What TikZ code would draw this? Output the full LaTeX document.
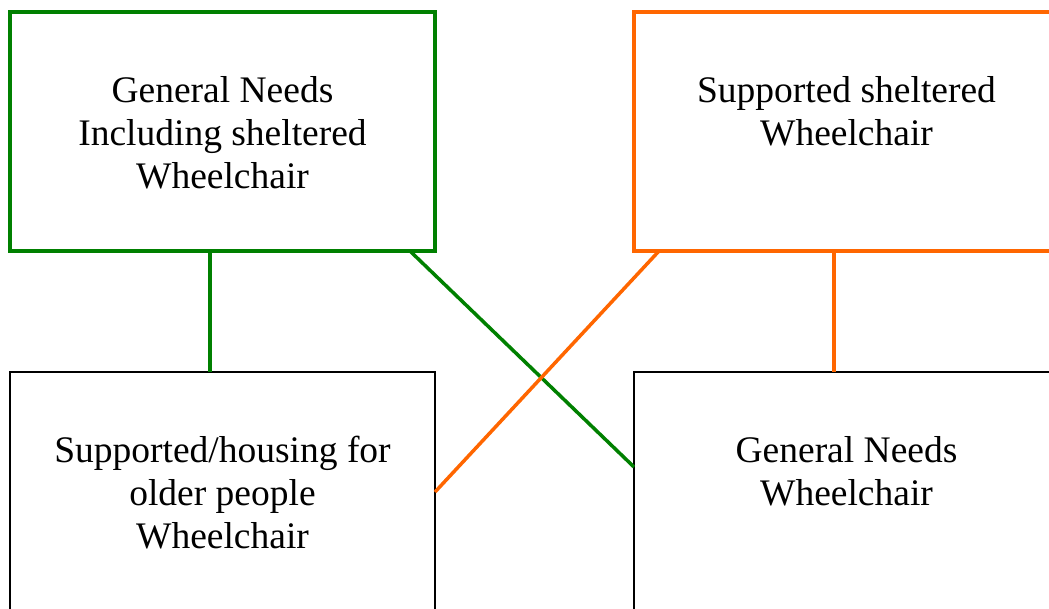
\documentclass[tikz,border=0pt]{standalone}
\usepackage{fontspec}
\setmainfont{Liberation Serif}
\definecolor{gngreen}{RGB}{0,128,0}
\definecolor{shorange}{RGB}{255,102,0}
\begin{document}
\begin{tikzpicture}[x=1pt,y=-1pt,
		box/.style={draw,rectangle,minimum width=425pt,minimum height=239pt,inner sep=0pt,outer sep=0pt,anchor=north west},
		boxtext/.style={align=center,inner sep=0pt,anchor=north,font=\fontsize{37.5}{43}\selectfont},
		link/.style={line width=3.5pt}]
	\useasboundingbox (0,0) rectangle (1049,608);
	% top row
	\node[box,draw=gngreen,line width=4pt] (gn) at (10,12) {};
	\node[box,draw=shorange,line width=4pt] (sh) at (634,12) {};
	% bottom row
	\node[box,line width=2pt] (sup) at (10,372) {};
	\node[box,line width=2pt] (gnw) at (634,372) {};
	% texts
	\node[boxtext] (gntext) at ([yshift=-64pt]gn.north) {General Needs\\Including sheltered\\Wheelchair};
	\node[boxtext] (shtext) at ([yshift=-64pt]sh.north) {Supported sheltered\\Wheelchair};
	\node[boxtext] (suptext) at ([yshift=-64pt]sup.north) {Supported/housing for\\older people\\Wheelchair};
	\node[boxtext] (gnwtext) at ([yshift=-64pt]gnw.north) {General Needs\\Wheelchair};
	% links
	\draw[link,gngreen] ([xshift=200pt]gn.south west) -- ([xshift=200pt]sup.north west);
	\draw[link,gngreen] ([xshift=400pt]gn.south west) -- ([yshift=-95pt]gnw.north west);
	\draw[link,shorange] ([xshift=25pt]sh.south west) -- ([yshift=-120pt]sup.north east);
	\draw[link,shorange] ([xshift=200pt]sh.south west) -- ([xshift=200pt]gnw.north west);
\end{tikzpicture}
\end{document}
